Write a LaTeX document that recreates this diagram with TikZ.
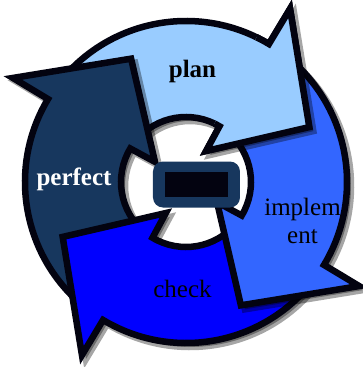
\documentclass[tikz,border=0pt]{standalone}
\usepackage{fontspec}
\setmainfont{Liberation Serif}
\def\arrowpath#1{({#1+81}:161) arc[start angle={#1+81}, end angle={#1}, radius=161] -- ({#1}:202) -- ({#1-35}:135) -- ({#1-2}:37) -- ({#1}:65) arc[start angle={#1}, end angle={#1+81}, radius=65] -- cycle}
\definecolor{planc}{RGB}{153,204,255}
\definecolor{implc}{RGB}{51,102,255}
\definecolor{checkc}{RGB}{0,0,255}
\definecolor{perfc}{RGB}{23,55,94}
\definecolor{outl}{RGB}{3,3,16}
\tikzset{
  arrowbody/.style={draw=outl, line width=6.5pt, line join=miter, miter limit=20},
  arrowdrop/.style={fill=black, draw=black, line width=6.5pt, opacity=0.35, line join=miter, miter limit=20, shift={(4,-4)}},
  lbl/.style={font=\fontsize{25}{28}\selectfont, inner sep=0pt, anchor=base},
}
\begin{document}
\begin{tikzpicture}[x=1pt,y=1pt]
\useasboundingbox (-186,-185) rectangle (176,182);
% plan
\path[arrowdrop] \arrowpath{59};
\path[arrowbody, fill=planc] \arrowpath{59};
% perfect
\path[arrowdrop] \arrowpath{149};
\path[arrowbody, fill=perfc] \arrowpath{149};
% check
\path[arrowdrop] \arrowpath{239};
\path[arrowbody, fill=checkc] \arrowpath{239};
% implement
\path[arrowdrop] \arrowpath{-31};
\path[arrowbody, fill=implc] \arrowpath{-31};
% plan head again, over the tail of implement
\begin{scope}
  \clip (0,0) -- (4:300) arc[start angle=4, end angle=64, radius=300] -- cycle;
  \begin{scope}
    \clip \arrowpath{-31};
    \path[arrowdrop] \arrowpath{59};
  \end{scope}
  \path[arrowbody, fill=planc] \arrowpath{59};
\end{scope}
% hub
\node (hub) at (10.5,-2.5) [fill=perfc, rounded corners=10pt, minimum width=87pt, minimum height=46pt, inner sep=0pt] {};
\node (hubin) at (hub.center) [fill=outl, minimum width=63pt, minimum height=25pt, inner sep=0pt] {};
% labels
\node[lbl, font=\fontsize{25}{28}\selectfont\bfseries] (plan) at (6.5,104) {plan};
\node[lbl, font=\fontsize{25}{28}\selectfont\bfseries, text=white] (perfect) at (-112,-3) {perfect};
\node[lbl] (implem) at (116.5,-33) {implem};
\node[lbl] (ent) at (116.5,-61) {ent};
\node[lbl] (check) at (-3.5,-115) {check};
\end{tikzpicture}
\end{document}
